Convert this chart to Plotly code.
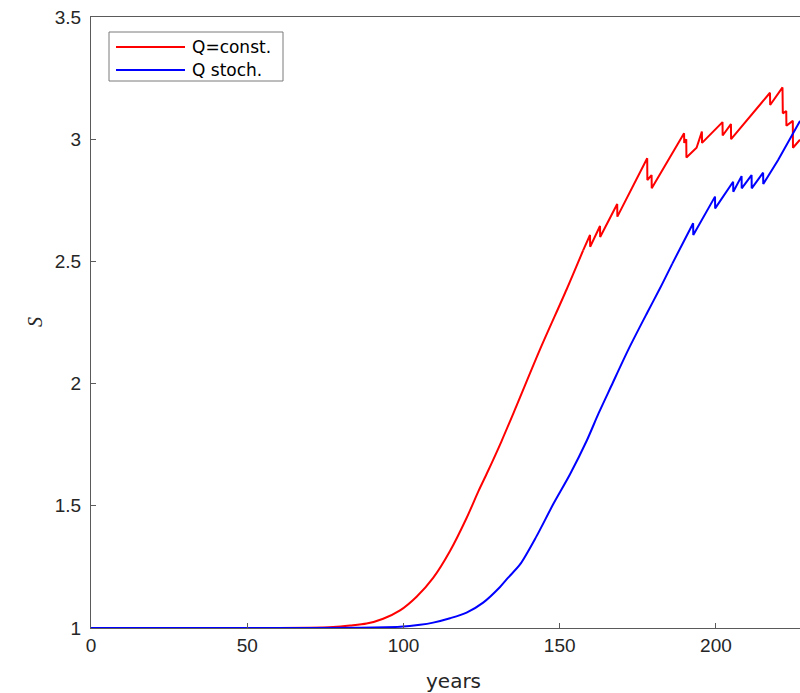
import plotly.graph_objects as go

# ---- data ----
years_const = [0, 60, 70, 77.5, 82.9, 88.2, 93.5, 98.9, 104.2, 109.5, 114.9, 120.2, 124.0,
               126.6, 131.4, 136.2, 143.7, 152.2, 157.5, 159.7, 159.75, 162.9, 162.95, 168.4,
               168.45, 178.0, 178.05, 179.4, 179.45, 189.8, 189.85, 190.5, 190.55, 191.4,
               193.8, 195.5, 195.55, 202.1, 202.15, 204.8, 204.85, 217.3, 217.35, 221.3,
               221.4, 222.5, 222.55, 224.6, 224.65, 226.9]
s_const = [1.0, 1.0, 1.001, 1.004, 1.010, 1.018, 1.038, 1.072, 1.128, 1.205, 1.315, 1.45, 1.56,
           1.63, 1.765, 1.91, 2.14, 2.385, 2.545, 2.608, 2.56, 2.645, 2.60, 2.735,
           2.683, 2.922, 2.833, 2.853, 2.799, 3.024, 2.985, 3.0, 2.925, 2.935,
           2.965, 3.031, 2.985, 3.07, 3.015, 3.062, 3.0, 3.19, 3.14, 3.212,
           3.106, 3.115, 3.055, 3.075, 2.965, 2.998]

years_stoch = [0, 70, 85, 98.9, 105.3, 109.5, 114.9, 120.2, 125.5, 130.9, 133.5, 137.3,
               142.6, 147.9, 153.3, 158.6, 162.5, 166.5, 172, 178, 182.1, 186, 192.7, 192.75,
               199.7, 199.75, 205.5, 205.55, 208.2, 208.25, 211.4, 211.45, 215.1,
               215.15, 219.9, 226.9]
s_stoch = [1.0, 1.0, 1.001, 1.005, 1.013, 1.022, 1.04, 1.063, 1.104, 1.168, 1.206, 1.26,
           1.376, 1.506, 1.629, 1.765, 1.88, 1.99, 2.14, 2.29, 2.39, 2.49, 2.656,
           2.608, 2.765, 2.717, 2.826, 2.785, 2.849, 2.799, 2.853, 2.799, 2.863,
           2.817, 2.915, 3.075]

# index where the smooth growth phase ends and the saw-tooth phase starts
const_smooth_end = years_const.index(157.5)
stoch_smooth_end = years_stoch.index(186)

x_ticks = [0, 50, 100, 150, 200]
y_ticks = [1, 1.5, 2, 2.5, 3, 3.5]
y_tick_text = ["1", "1.5", "2", "2.5", "3", "3.5"]

# ---- layout geometry (pixels) ----
W, H = 800, 693
L, T, B = 91, 17, 628
R = 800

def px(xp):
    return (xp - L) / (R - L)

def py(yp):
    return (B - yp) / (B - T)

fig = go.Figure()

def add_series(xs, ys, split, color, name):
    # smooth growth phase (spline) and jumpy phase (straight segments)
    fig.add_trace(go.Scatter(x=xs[:split + 1], y=ys[:split + 1], mode="lines", name=name,
                             line=dict(color=color, width=2, shape="spline", smoothing=0.8),
                             showlegend=False))
    fig.add_trace(go.Scatter(x=xs[split:], y=ys[split:], mode="lines", name=name,
                             line=dict(color=color, width=2), showlegend=False))

add_series(years_const, s_const, const_smooth_end, "#ff0000", "Q=const.")
add_series(years_stoch, s_stoch, stoch_smooth_end, "#0000ff", "Q stoch.")

axis_col = "#5a5a5a"
font_col = "#262626"
tick_font = dict(size=19, color=font_col, family="Liberation Sans, Arial, sans-serif")
fig.update_layout(
    width=W, height=H,
    margin=dict(l=L, r=W - R, t=T, b=H - B),
    paper_bgcolor="white", plot_bgcolor="white",
    font=dict(family="Liberation Sans, Arial, sans-serif", size=16, color=font_col),
    xaxis=dict(range=[0, 226.9], tickvals=x_ticks, ticks="inside", ticklen=5,
               tickcolor=axis_col, showline=True, linecolor=axis_col, linewidth=1,
               mirror=True, showgrid=False, zeroline=False, tickfont=tick_font),
    yaxis=dict(range=[1, 3.5], tickvals=y_ticks, ticktext=y_tick_text, ticks="inside",
               ticklen=5, tickcolor=axis_col, showline=True, linecolor=axis_col,
               linewidth=1, showgrid=False, zeroline=False, tickfont=tick_font,
               ticklabelstandoff=5),
)

# axis titles
fig.add_annotation(text="years", xref="paper", yref="paper", x=px(453), y=py(681),
                   xanchor="center", yanchor="middle", showarrow=False,
                   font=dict(size=20, color=font_col,
                             family="DejaVu Sans, Liberation Sans, sans-serif"))
fig.add_annotation(text="<i>S</i>", xref="paper", yref="paper", x=px(35), y=py(322),
                   xanchor="center", yanchor="middle", showarrow=False, textangle=-90,
                   font=dict(size=20, color=font_col, family="Liberation Serif, serif"))

# legend box
fig.add_shape(type="rect", xref="paper", yref="paper", x0=px(109), x1=px(283),
              y0=py(81), y1=py(32), line=dict(color="#7a7a7a", width=1),
              fillcolor="white", layer="above")
legend_items = [("Q=const.", "#ff0000", 47), ("Q stoch.", "#0000ff", 70)]
for label, col, yy in legend_items:
    fig.add_shape(type="line", xref="paper", yref="paper", x0=px(116), x1=px(185),
                  y0=py(yy), y1=py(yy), line=dict(color=col, width=2), layer="above")
    fig.add_annotation(text=label, xref="paper", yref="paper", x=px(190), y=py(yy),
                       xanchor="left", yanchor="middle", showarrow=False,
                       font=dict(size=17, color="#000000",
                                 family="DejaVu Sans, Liberation Sans, sans-serif"))

fig.write_html("out.html",
               config={"displayModeBar": False},
               post_script="document.body.style.margin='0';"
                           "document.body.style.overflow='hidden';")
